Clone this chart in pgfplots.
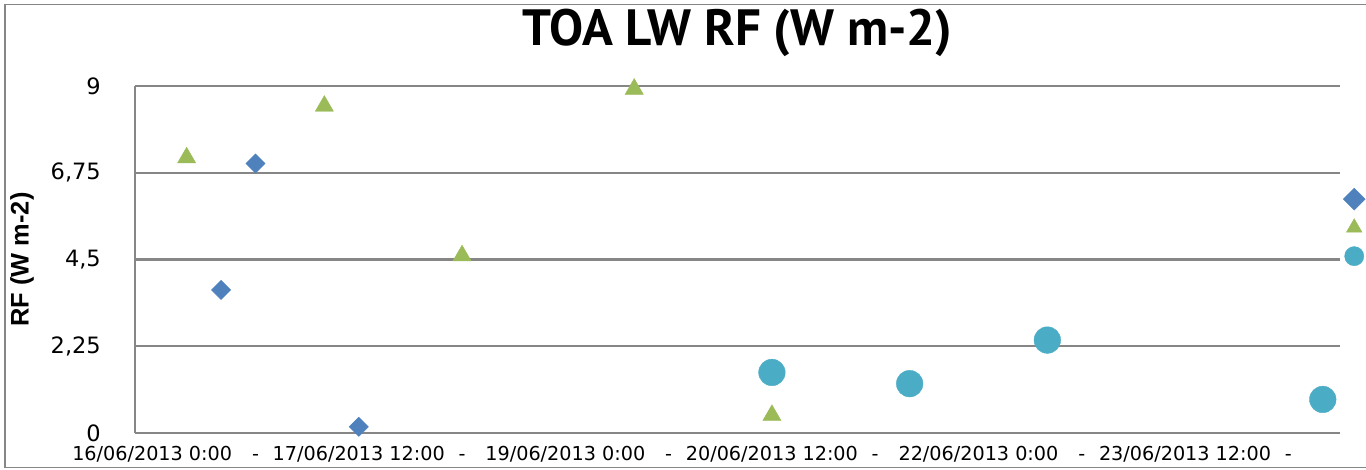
\documentclass[border=0pt]{standalone}
\usepackage{fontspec}
\setmainfont{DejaVu Sans}
\newfontfamily\titlefont{PT Sans}
\newfontfamily\labfont{Liberation Sans}
\usepackage{pgfplots}
\pgfplotsset{compat=1.18}
\definecolor{gridc}{RGB}{134,134,134}
\definecolor{cblue}{RGB}{79,129,189}
\definecolor{cgreen}{RGB}{155,187,89}
\definecolor{caqua}{RGB}{75,172,198}
\pgfplotsset{legimg/.style={legend image code/.code={\path[draw=none,fill=none] (-12bp,-12bp) rectangle (12bp,12bp); \draw[##1, mark size=#1] plot coordinates {(0bp,0bp)};}}}
\begin{document}
\begin{tikzpicture}[x=1bp,y=1bp]
\useasboundingbox (0,0) rectangle (1366,470);
\draw[gridc, line width=1.6bp] (5,2.5) rectangle (1420,465.5);
\begin{axis}[
  at={(135bp,37bp)}, anchor=south west,
  scale only axis, width=1205bp, height=347bp,
  xmin=-0.5, xmax=34.5, ymin=0, ymax=9,
  clip=false,
  axis lines*=left,
  axis line style={gridc, line width=2.1bp, -},
  ymajorgrids, grid style={gridc, line width=2.1bp},
  major tick length=0pt,
  ytick={0,2.25,4.5,6.75,9},
  yticklabels={0,{2,25},{4,5},{6,75},9},
  xtick={0,3,...,33},
  xticklabels={16/06/2013 0:00,-,17/06/2013 12:00,-,19/06/2013 0:00,-,20/06/2013 12:00,-,22/06/2013 0:00,-,23/06/2013 12:00,-},
  yticklabel style={font=\fontsize{22.5bp}{24bp}\selectfont, anchor=east, inner sep=0pt, xshift=-34bp},
  xticklabel style={font=\fontsize{19.2bp}{21bp}\selectfont, anchor=base, inner sep=0pt, yshift=-28bp},
  ylabel={\bfseries RF (W m-2)},
  ylabel style={at={(axis description cs:-0.0938,0.5)}, anchor=center, font=\labfont\fontsize{25.4bp}{27bp}\selectfont},
  title={\bfseries TOA LW RF (W m-2)},
  title style={at={(axis description cs:0.5,1.099)}, anchor=base, font=\titlefont\fontsize{51bp}{54bp}\selectfont},
  legend style={at={(axis description cs:1.0017,0.709)}, anchor=north west, draw=none, fill=none, inner sep=0pt, row sep=4.5bp, nodes={inner sep=0pt, draw=none, fill=none}},
]
\addplot[only marks, mark=square*, mark size=6.8bp, mark options={rotate=45, fill=cblue, draw=cblue}, legimg=7.8bp]
  coordinates {(2,3.71) (3,6.99) (6,0.16)};
\addlegendentry{}
\addplot[only marks, mark=triangle*, mark size=10.5bp, mark options={fill=cgreen, draw=cgreen}, legimg=9bp]
  coordinates {(1,7.14) (5,8.48) (9,4.60) (14,8.92) (18,0.46)};
\addlegendentry{}
\addplot[only marks, mark=*, mark size=13.3bp, mark options={fill=caqua, draw=caqua}, legimg=9.6bp]
  coordinates {(18,1.57) (22,1.28) (26,2.41) (34,0.87)};
\addlegendentry{}
\end{axis}
\end{tikzpicture}
\end{document}
